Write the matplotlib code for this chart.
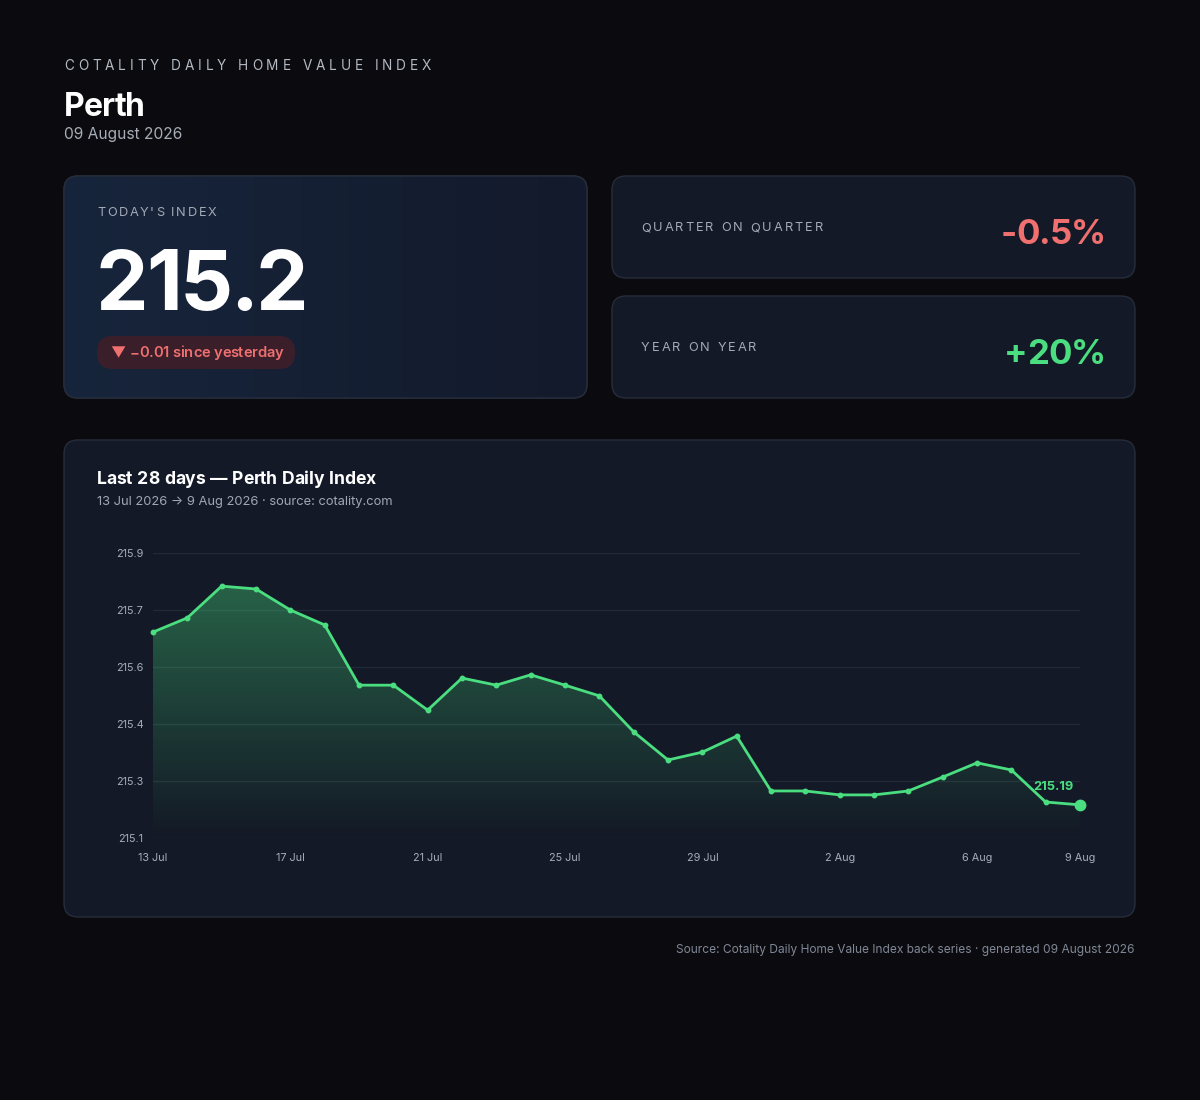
import numpy as np
import matplotlib
matplotlib.use("Agg")
import matplotlib.pyplot as plt
from matplotlib.patches import FancyBboxPatch, Polygon
from matplotlib.colors import LinearSegmentedColormap

plt.rcParams['font.family'] = ['Inter', 'DejaVu Sans']

# data
days = ["13 Jul", "14 Jul", "15 Jul", "16 Jul", "17 Jul", "18 Jul", "19 Jul",
        "20 Jul", "21 Jul", "22 Jul", "23 Jul", "24 Jul", "25 Jul", "26 Jul",
        "27 Jul", "28 Jul", "29 Jul", "30 Jul", "31 Jul", "1 Aug", "2 Aug",
        "3 Aug", "4 Aug", "5 Aug", "6 Aug", "7 Aug", "8 Aug", "9 Aug"]
index_values = [215.678, 215.718, 215.807, 215.799, 215.740, 215.698, 215.529,
                215.529, 215.459, 215.549, 215.529, 215.558, 215.529, 215.499,
                215.398, 215.319, 215.341, 215.386, 215.232, 215.232, 215.221,
                215.221, 215.232, 215.271, 215.311, 215.291, 215.201, 215.193]
tick_days = ["13 Jul", "17 Jul", "21 Jul", "25 Jul", "29 Jul", "2 Aug", "6 Aug", "9 Aug"]
today_index = "215.2"
change_text = "\u25bc \u22120.01 since yesterday"
qoq_text = "-0.5%"
yoy_text = "+20%"

BG = "#0b0b0f"
CARD = "#131926"
BORDER = "#262d3b"
GREEN = "#4ade80"
RED = "#f07070"

W, H = 1200, 1100
fig = plt.figure(figsize=(12, 11), dpi=100, facecolor=BG)
bg = fig.add_axes([0, 0, 1, 1])
bg.set_xlim(0, W)
bg.set_ylim(H, 0)
bg.axis('off')
renderer = fig.canvas.get_renderer()


def card(x0, y0, x1, y1, color=CARD, r=14):
    p = FancyBboxPatch((x0 + r, y0 + r), x1 - x0 - 2 * r, y1 - y0 - 2 * r,
                       boxstyle="round,pad=%d" % r, fc=color, ec=BORDER, lw=1)
    bg.add_patch(p)
    return p


def spaced(x, y, s, spacing, ha='left', va='center', **kw):
    # letter-spaced text, drawn one char at a time
    widths = []
    for ch in s:
        t = bg.text(0, 0, ch if ch != " " else "n", **kw)
        w = t.get_window_extent(renderer).width
        t.remove()
        widths.append(w * 0.5 if ch == " " else w)
    total = sum(widths) + spacing * (len(s) - 1)
    if ha == 'right':
        x -= total
    for ch, w in zip(s, widths):
        if ch != " ":
            bg.text(x, y, ch, va=va, ha='left', **kw)
        x += w + spacing


# header
spaced(64, 66, "COTALITY DAILY HOME VALUE INDEX", 3.9, fontsize=9.8, color="#b4bac4")
spaced(64, 116, "Perth", -0.8, va='baseline', fontsize=23, fontweight='bold', color="white")
bg.text(64, 134, "09 August 2026", fontsize=11.2, color="#a7adb8", va='center')

# today's index card with gradient
big = card(64, 176, 587, 398, color="#152036")
grad = np.linspace(0, 1, 256).reshape(1, -1)
cmap = LinearSegmentedColormap.from_list("cardg", ["#17253c", "#131a2b"])
im = bg.imshow(grad, extent=(64, 587, 398, 176), cmap=cmap, aspect='auto', zorder=1)
im.set_clip_path(big)
bg.add_patch(FancyBboxPatch((78, 190), 495, 194, boxstyle="round,pad=14",
                            fc='none', ec=BORDER, lw=1, zorder=2))
spaced(97, 213, "TODAY'S INDEX", 1.7, fontsize=9.2, color="#a3aab6", zorder=3)
spaced(96, 310, today_index, -2.5, va='baseline', fontsize=60, fontweight='bold',
       color="white", zorder=3)
bg.add_patch(FancyBboxPatch((97, 336), 198, 33, boxstyle="round,pad=0,rounding_size=16",
                            fc="#3a1f2a", ec='none', zorder=2))
spaced(110, 353, change_text, -0.25, fontsize=10.6, fontweight='semibold', color=RED,
       zorder=3)

# QoQ / YoY cards
card(612, 176, 1135, 278)
spaced(641, 228, "QUARTER ON QUARTER", 2.0, fontsize=9.2, color="#a3aab6")
spaced(1106, 244, qoq_text, -0.8, ha='right', va='baseline', fontsize=25,
       fontweight='bold', color=RED)
card(612, 296, 1135, 398)
spaced(641, 348, "YEAR ON YEAR", 2.0, fontsize=9.2, color="#a3aab6")
spaced(1106, 364, yoy_text, -0.8, ha='right', va='baseline', fontsize=25,
       fontweight='bold', color=GREEN)

# chart card
card(64, 440, 1135, 917)
spaced(97, 479, "Last 28 days \u2014 Perth Daily Index", -0.3, fontsize=12.6,
       fontweight='bold', color="white")
bg.text(97, 502, "13 Jul 2026 \u2192 9 Aug 2026 \u00b7 source: cotality.com", fontsize=9.3,
        color="#a0a7b3", va='center')

# footer
bg.text(1135, 950, "Source: Cotality Daily Home Value Index back series \u00b7 generated 09 August 2026",
        fontsize=8.6, color="#7f8796", ha='right', va='center')

# line chart
ax = fig.add_axes([153 / W, 1 - 838 / H, 927 / W, 285 / H])
ax.set_facecolor('none')
x = np.arange(len(days))
y = np.array(index_values)
ymin, ymax = 215.1, 215.9

yt = np.linspace(ymin, ymax, 6)
ax.set_yticks(yt)
ax.set_yticklabels(["%.1f" % v for v in yt])
for v in yt:
    ax.axhline(v, color="#222a38", lw=1, zorder=0)
ax.set_xticks([days.index(d) for d in tick_days])
ax.set_xticklabels(tick_days)
ax.tick_params(length=0, labelsize=7.8, colors="#a7adb8")
ax.tick_params(axis='y', pad=7)
ax.tick_params(axis='x', pad=10.5)
for sp in ax.spines.values():
    sp.set_visible(False)

# gradient area under the line
poly = Polygon(np.column_stack([np.r_[x, x[-1], x[0]], np.r_[y, ymin, ymin]]),
               closed=True, fc='none', ec='none')
ax.add_patch(poly)
fill_cmap = LinearSegmentedColormap.from_list(
    "fillg", [(0.29, 0.87, 0.5, 0.0), (0.29, 0.87, 0.5, 0.42)])
gim = ax.imshow(np.linspace(0, 1, 256).reshape(-1, 1), extent=(0, len(days) - 1, ymin, ymax),
                origin='lower', cmap=fill_cmap, aspect='auto', zorder=1)
gim.set_clip_path(poly)
ax.set_xlim(0, len(days) - 1)
ax.set_ylim(ymin, ymax)

ax.plot(x, y, color=GREEN, lw=2, zorder=3, clip_on=False)
ax.plot(x[:-1], y[:-1], 'o', color=GREEN, ms=3.2, zorder=4, clip_on=False)
ax.plot(x[-1], y[-1], 'o', color=GREEN, ms=7.5, zorder=5, clip_on=False)
ax.annotate("%.2f" % y[-1], (x[-1], y[-1]), xytext=(-19, 13), textcoords='offset points',
            ha='center', va='center', fontsize=9.3, fontweight='bold', color=GREEN, zorder=6)

fig.savefig("out.png", dpi=100, facecolor=BG)
